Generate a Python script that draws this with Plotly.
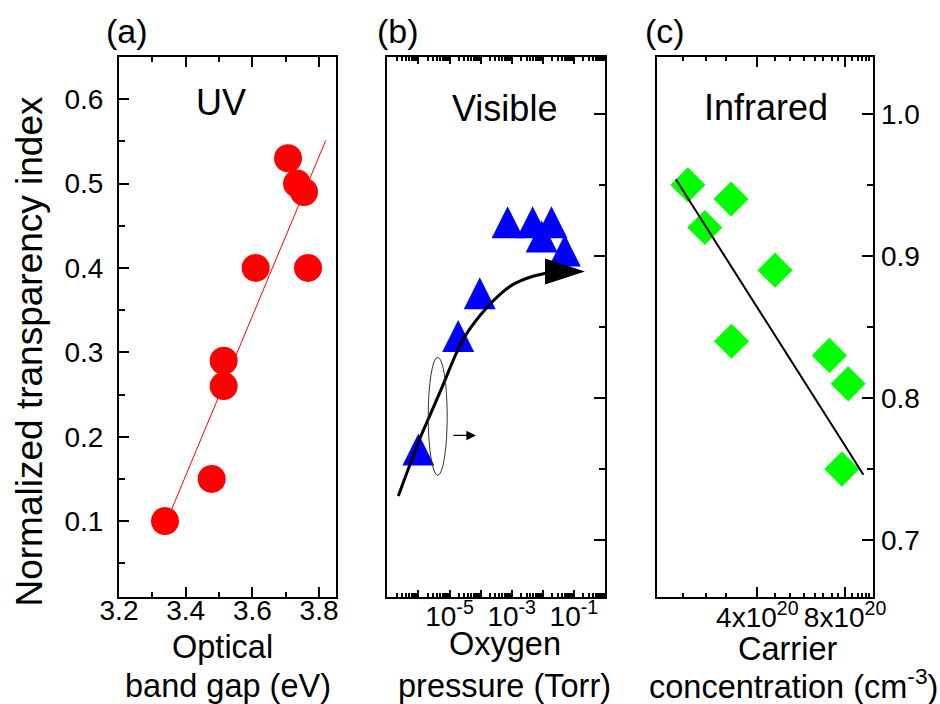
import math
import plotly.graph_objects as go

W, H = 940, 704
FONT = "Liberation Sans, Arial, sans-serif"

# ---- (a) UV: optical band gap vs normalized transparency index ----
gap_ev = [3.338, 3.478, 3.514, 3.514, 3.610, 3.767, 3.707, 3.734, 3.755]
uv_index = [0.10, 0.15, 0.26, 0.29, 0.40, 0.40, 0.53, 0.50, 0.49]
uv_fit_gap = [3.358, 3.820]
uv_fit_index = [0.114, 0.551]

# ---- (b) Visible: oxygen pressure (Torr) ----
pressure_torr = [1.0e-6, 1.9e-5, 9.4e-5, 7.4e-4, 4.7e-3, 9.2e-3, 1.9e-2, 5.1e-2]
vis_index = [0.76, 0.84, 0.87, 0.92, 0.92, 0.91, 0.92, 0.90]
# guide-to-the-eye trend curve and its arrow tip
trend_p = [2.26e-7, 5.1e-7, 1.19e-6, 2.36e-6, 5.61e-6, 1.78e-5, 3.73e-5,
           1.49e-4, 4.21e-4, 1.12e-3, 3.87e-3, 1.33e-2]
trend_t = [0.731, 0.752, 0.773, 0.788, 0.807, 0.833, 0.846,
           0.863, 0.873, 0.880, 0.885, 0.888]
trend_tip_p = [0.227]
trend_tip_t = [0.889]
# ellipse marking the curve, and the small arrow pointing to the right axis
ellipse_p = [2.07e-6, 8.43e-6]
ellipse_t = [0.7456, 0.8287]
pointer_p = 7.1e-5
pointer_t = 0.7737

# ---- (c) Infrared: carrier concentration (cm^-3) ----
carrier_cm3 = [2.31e20, 3.25e20, 2.64e20, 4.60e20, 3.26e20, 7.07e20, 8.20e20, 7.80e20]
ir_index = [0.95, 0.94, 0.92, 0.89, 0.84, 0.83, 0.81, 0.75]
ir_fit_carrier = [2.10e20, 9.25e20]
ir_fit_index = [0.954, 0.746]

# tick values / labels
pressure_major = [10.0 ** e for e in range(-7, 1)]
pressure_text = ["", "", "10<sup>-5</sup>", "", "10<sup>-3</sup>", "", "10<sup>-1</sup>", ""]
pressure_minor = [k * 10.0 ** e for e in range(-7, 0) for k in range(2, 10)]
carrier_major = [4e20, 8e20]
carrier_text = ["4x10<sup>20</sup>", "8x10<sup>20</sup>"]
carrier_minor = [2.23e20, 2.66e20, 3.12e20, 4.6e20, 5.18e20, 5.79e20, 6.31e20, 6.74e20,
                 7.21e20, 7.59e20, 8.44e20, 8.83e20, 9.14e20, 9.45e20, 9.70e20]


def xdom(left, right):
    return [left / W, right / W]


def ydom(top, bottom):
    return [1 - bottom / H, 1 - top / H]


TOP, BOTTOM = 57, 597

base_axis = dict(
    showline=True, linewidth=2, linecolor="black",
    ticks="inside", tickwidth=2, tickcolor="black", ticklen=10,
    showgrid=False, zeroline=False, automargin=False,
    tickfont=dict(family=FONT, size=28, color="black"),
)
minor_base = dict(ticks="inside", ticklen=5, tickwidth=2, tickcolor="black", showgrid=False)

fig = go.Figure()

# (a)
fig.add_trace(go.Scatter(
    x=gap_ev, y=uv_index, mode="markers", xaxis="x", yaxis="y",
    marker=dict(symbol="circle", size=28, color="#ff0000", line=dict(width=0)),
))
fig.add_trace(go.Scatter(
    x=uv_fit_gap, y=uv_fit_index, mode="lines", xaxis="x", yaxis="y",
    line=dict(color="#ff0000", width=1),
))

# (b)
tri_size = 32
fig.add_trace(go.Scatter(
    x=pressure_torr, y=vis_index, mode="markers", xaxis="x2", yaxis="y2",
    marker=dict(symbol="arrow-down", angle=180, standoff=tri_size * 2 / 3,
                size=tri_size, color="#0000ff", line=dict(width=0)),
))
fig.add_trace(go.Scatter(
    x=trend_p, y=trend_t, mode="lines", xaxis="x2", yaxis="y2",
    line=dict(color="black", width=3, shape="spline", smoothing=1.0),
))
fig.add_trace(go.Scatter(
    x=trend_tip_p, y=trend_tip_t, mode="markers", xaxis="x2", yaxis="y2",
    marker=dict(symbol="arrow", angle=90, size=42, color="black", line=dict(width=0)),
))

# (c)
fig.add_trace(go.Scatter(
    x=carrier_cm3, y=ir_index, mode="markers", xaxis="x3", yaxis="y3",
    marker=dict(symbol="diamond", size=27, color="#00ff00", line=dict(width=0)),
))
fig.add_trace(go.Scatter(
    x=ir_fit_carrier, y=ir_fit_index, mode="lines", xaxis="x3", yaxis="y3",
    line=dict(color="black", width=2),
))

ir_range = [0.66, 1.04]

fig.update_layout(
    width=W, height=H, margin=dict(l=0, r=0, t=0, b=0),
    template="none", showlegend=False,
    paper_bgcolor="white", plot_bgcolor="white",
    font=dict(family=FONT, color="black"),
    xaxis=dict(base_axis, domain=xdom(119, 335.7), range=[3.2, 3.85], anchor="y",
               tick0=3.2, dtick=0.2, tickformat=".1f", mirror="ticks",
               ticklabelstandoff=-13,
               minor=dict(minor_base, dtick=0.1)),
    yaxis=dict(base_axis, domain=ydom(TOP, BOTTOM), range=[0.01, 0.65], anchor="x",
               tick0=0, dtick=0.1, tickformat=".1f", mirror=True,
               ticklabelstandoff=8,
               minor=dict(minor_base, dtick=0.05, ticklen=6)),
    xaxis2=dict(base_axis, domain=xdom(387.3, 605), type="log", range=[-7, 0], anchor="y2",
                tickmode="array", tickvals=pressure_major, ticktext=pressure_text,
                ticklen=7, mirror="ticks", ticklabelstandoff=-7,
                minor=dict(minor_base, tickmode="array", tickvals=pressure_minor, ticklen=4)),
    yaxis2=dict(base_axis, domain=ydom(TOP, BOTTOM), range=ir_range, anchor="x2",
                side="right", showticklabels=False, tick0=0.7, dtick=0.1, ticklen=11,
                mirror=True, minor=dict(minor_base, dtick=0.05, ticklen=6)),
    xaxis3=dict(base_axis, domain=xdom(656.7, 873.3), type="log",
                range=[math.log10(1.805e20), 21.0], anchor="y3",
                tickmode="array", tickvals=carrier_major, ticktext=carrier_text,
                mirror="ticks", ticklabelstandoff=-6,
                minor=dict(minor_base, tickmode="array", tickvals=carrier_minor, ticklen=4)),
    yaxis3=dict(base_axis, domain=ydom(TOP, BOTTOM), range=ir_range, anchor="x3",
                side="right", tick0=0.7, dtick=0.1, tickformat=".1f", ticklen=11,
                mirror=True, minor=dict(minor_base, dtick=0.05, ticklen=6)),
)

fig.add_shape(type="circle", xref="x2", yref="y2",
              x0=ellipse_p[0], x1=ellipse_p[1], y0=ellipse_t[0], y1=ellipse_t[1],
              line=dict(color="#333333", width=1))

fig.add_annotation(xref="x2", yref="y2", x=math.log10(pointer_p), y=pointer_t,
                   ax=-24, ay=0, text="", showarrow=True,
                   arrowhead=2, arrowsize=1.6, arrowwidth=1.2, arrowcolor="black")


def label(text, px, py, size, angle=0):
    fig.add_annotation(text=text, xref="paper", yref="paper", x=px / W, y=1 - py / H,
                       xanchor="center", yanchor="middle", showarrow=False,
                       textangle=angle, font=dict(family=FONT, size=size, color="black"))


# panel letters
label("(a)", 127, 31, 34)
label("(b)", 397.5, 31, 34)
label("(c)", 665, 31, 34)
# spectral region labels
label("UV", 221, 103, 36)
label("Visible", 504, 108, 36)
label("Infrared", 766, 107, 36)
# axis titles
label("Optical", 222, 647, 32.5)
label("band gap (eV)", 227.5, 686, 32.5)
label("Oxygen", 505, 644, 32.5)
label("pressure (Torr)", 504, 686, 32.5)
label("Carrier", 787, 649, 32.5)
label("concentration (cm<sup>-3</sup>)", 793, 684, 32.5)
label("Normalized transparency index", 29, 351.5, 37, angle=-90)

fig.write_html("out.html")
